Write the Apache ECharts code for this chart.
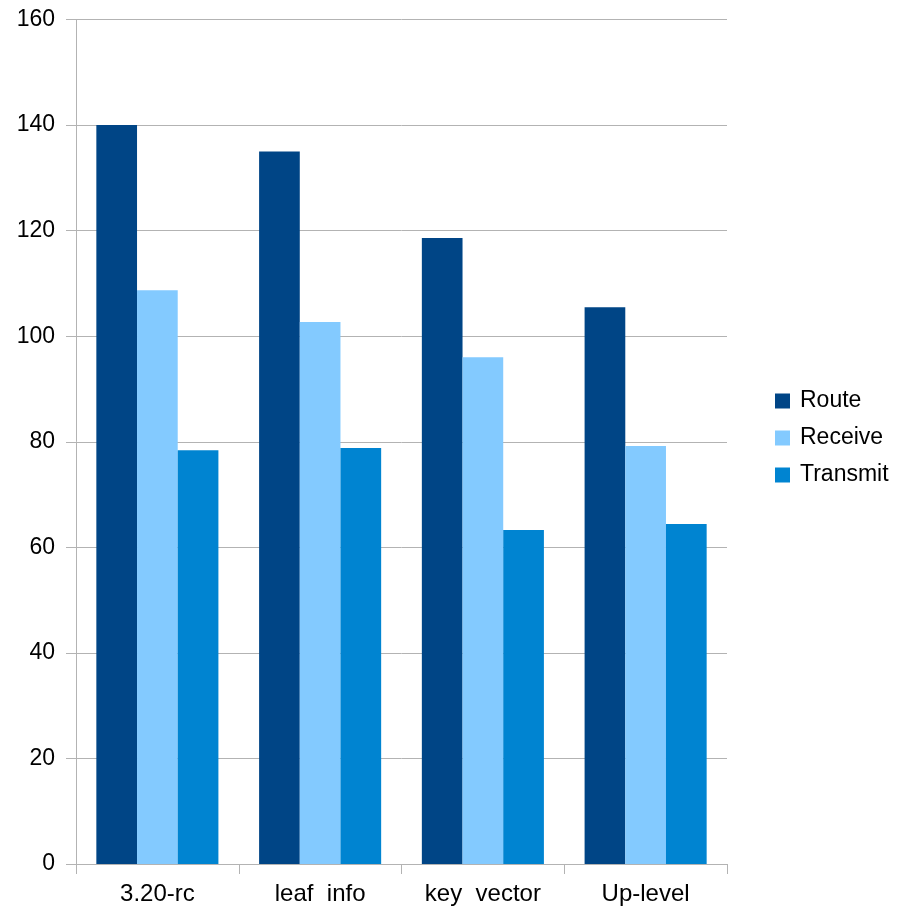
<!DOCTYPE html>
<html><head><meta charset="utf-8">
<script src="https://cdn.jsdelivr.net/npm/echarts@6/dist/echarts.min.js"></script>
<style>html,body{margin:0;padding:0;background:#fff}#c{width:912px;height:910px}</style>
</head><body><div id="c"></div>
<script>
const categories = ["3.20-rc", "leaf  info", "key  vector", "Up-level"];
const route = [140, 135, 118.6, 105.5];
const receive = [108.7, 102.7, 96.0, 79.2];
const transmit = [78.4, 78.8, 63.3, 64.4];
const seriesNames = ["Route", "Receive", "Transmit"];
const colors = ["#004586", "#83caff", "#0084d1"];

const chart = echarts.init(document.getElementById('c'), null, {renderer: 'canvas'});
const font = 'Liberation Sans, Arial, sans-serif';
chart.setOption({
  animation: false,
  color: colors,
  grid: {left: 76, right: 185, top: 19.5, bottom: 46, containLabel: false},
  legend: {
    orient: 'vertical', left: 775, top: 388, padding: 0,
    itemWidth: 15, itemHeight: 15, itemGap: 11,
    icon: 'rect',
    textStyle: {fontFamily: font, fontSize: 23, color: '#000', padding: [0, 0, 0, 5], lineHeight: 26},
    data: seriesNames
  },
  xAxis: {
    type: 'category', data: categories,
    axisLine: {show: true, lineStyle: {color: '#b3b3b3'}},
    axisTick: {show: true, length: 10, lineStyle: {color: '#b3b3b3'}},
    axisLabel: {fontFamily: font, fontSize: 24, color: '#000', margin: 18},
    splitLine: {show: false}
  },
  yAxis: {
    type: 'value', min: 0, max: 160, interval: 20,
    axisLine: {show: true, lineStyle: {color: '#b3b3b3'}},
    axisTick: {show: true, length: 10, lineStyle: {color: '#b3b3b3'}},
    axisLabel: {fontFamily: font, fontSize: 23, color: '#000', margin: 21},
    splitLine: {show: true, lineStyle: {color: '#b3b3b3'}}
  },
  series: [
    {name: seriesNames[0], type: 'bar', data: route, barGap: '0%', barCategoryGap: '25%'},
    {name: seriesNames[1], type: 'bar', data: receive, barGap: '0%', barCategoryGap: '25%'},
    {name: seriesNames[2], type: 'bar', data: transmit, barGap: '0%', barCategoryGap: '25%'}
  ]
});
</script></body></html>
